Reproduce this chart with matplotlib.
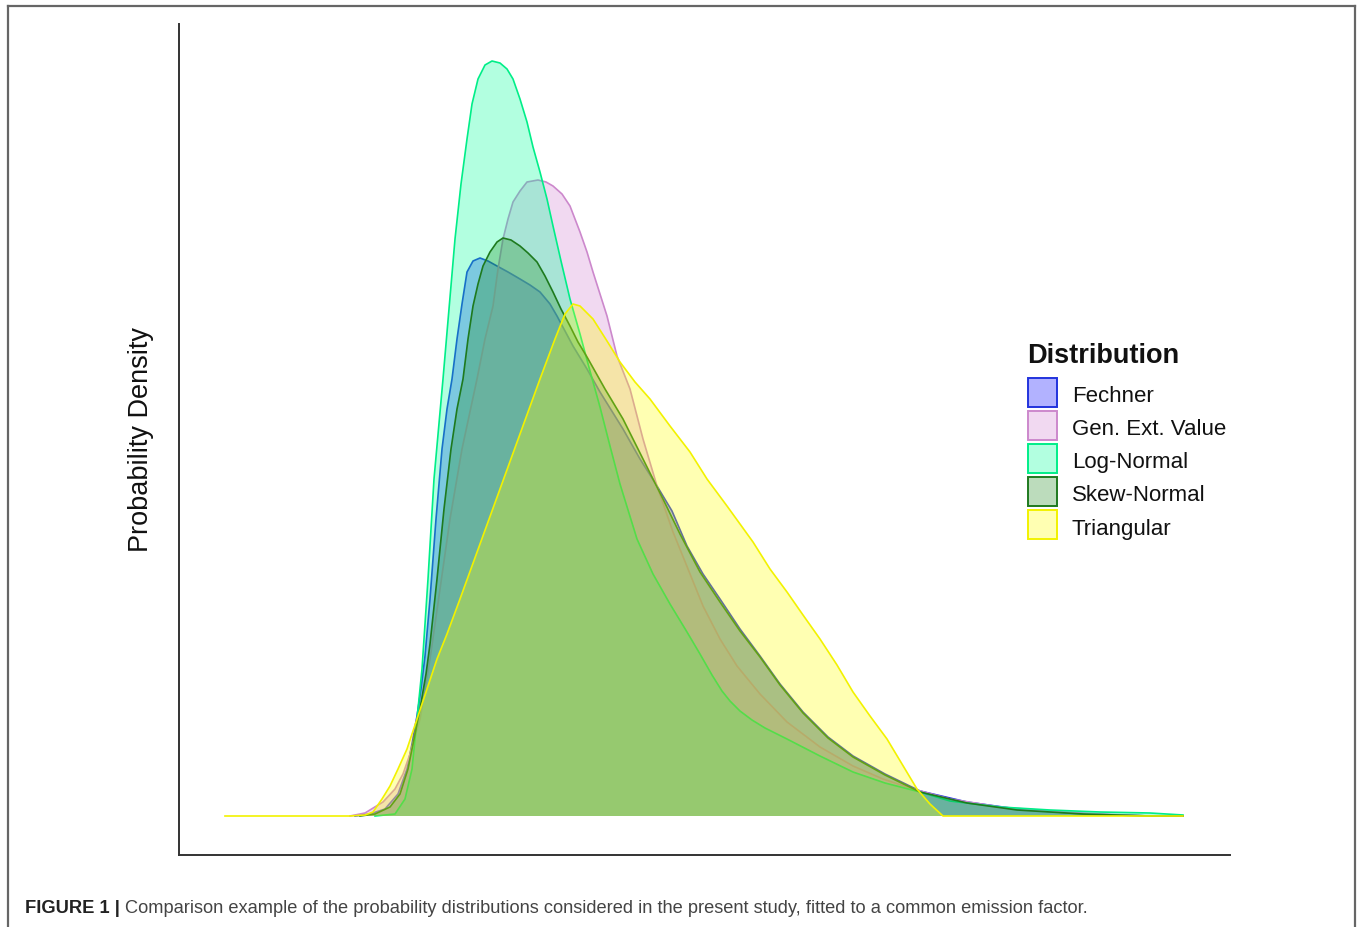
import matplotlib
matplotlib.use("Agg")
import matplotlib.pyplot as plt
from matplotlib.patches import Rectangle
from matplotlib.lines import Line2D
from matplotlib.colors import to_rgba

plt.rcParams['font.family'] = ['Liberation Sans', 'DejaVu Sans']

# ---------------- data (arbitrary units) ----------------
distributions = ["Fechner", "Gen. Ext. Value", "Log-Normal", "Skew-Normal", "Triangular"]

fechner_x = [1.76, 1.91, 2.06, 2.19, 2.28, 2.33, 2.38, 2.42, 2.46, 2.51, 2.57, 2.63, 2.68, 2.73,
             2.78, 2.83, 2.88, 2.94, 3.01, 3.09, 3.18, 3.29, 3.41, 3.51, 3.61, 3.71, 3.78, 3.86,
             3.94, 4.08, 4.21, 4.44, 4.61, 4.78, 4.93, 5.08, 5.24, 5.41, 5.61, 5.81, 6.01, 6.24,
             6.49, 6.74, 7.06, 7.41, 7.88, 8.38, 9.04, 9.71, 10.04]
fechner_y = [0.00, 0.02, 0.07, 0.22, 0.47, 0.72, 1.00, 1.27, 1.60, 2.17, 2.97, 3.67, 4.07, 4.37,
             4.77, 5.12, 5.44, 5.55, 5.58, 5.55, 5.50, 5.44, 5.37, 5.31, 5.24, 5.12, 5.00, 4.85,
             4.70, 4.47, 4.24, 3.87, 3.57, 3.30, 3.05, 2.70, 2.42, 2.17, 1.87, 1.60, 1.32, 1.04,
             0.79, 0.60, 0.42, 0.25, 0.14, 0.07, 0.02, 0.00, 0.00]

gev_x = [1.71, 1.86, 2.04, 2.16, 2.24, 2.31, 2.41, 2.51, 2.61, 2.71, 2.83, 2.98, 3.06, 3.14,
         3.19, 3.24, 3.29, 3.34, 3.41, 3.48, 3.59, 3.67, 3.74, 3.83, 3.91, 4.01, 4.08, 4.14,
         4.21, 4.28, 4.38, 4.51, 4.64, 4.78, 4.94, 5.07, 5.24, 5.41, 5.58, 5.81, 6.08, 6.41,
         6.74, 7.04, 7.34, 7.71, 8.21, 8.71, 9.21, 9.71]
gev_y = [0.00, 0.03, 0.14, 0.27, 0.42, 0.62, 0.97, 1.57, 2.27, 2.97, 3.67, 4.37, 4.77, 5.10,
         5.47, 5.77, 5.97, 6.14, 6.25, 6.34, 6.36, 6.34, 6.30, 6.22, 6.10, 5.84, 5.64, 5.44,
         5.22, 5.00, 4.60, 4.27, 3.77, 3.30, 2.84, 2.52, 2.10, 1.77, 1.50, 1.22, 0.94, 0.69,
         0.50, 0.37, 0.27, 0.17, 0.09, 0.05, 0.02, 0.00]

lognormal_x = [1.96, 2.16, 2.26, 2.33, 2.38, 2.43, 2.49, 2.55, 2.64, 2.70, 2.76, 2.82, 2.88, 2.93,
               2.99, 3.06, 3.13, 3.21, 3.28, 3.34, 3.41, 3.48, 3.54, 3.61, 3.68, 3.74, 3.82, 3.91,
               4.01, 4.11, 4.21, 4.31, 4.41, 4.58, 4.74, 4.91, 5.08, 5.21, 5.33, 5.43, 5.51, 5.61,
               5.73, 5.86, 6.08, 6.41, 6.74, 7.06, 7.41, 7.71, 8.21, 8.71, 9.21, 9.71, 10.04]
lognormal_y = [0.00, 0.02, 0.17, 0.47, 0.97, 1.47, 2.37, 3.37, 4.37, 5.07, 5.77, 6.32, 6.77, 7.12,
               7.37, 7.51, 7.55, 7.53, 7.47, 7.37, 7.17, 6.94, 6.69, 6.44, 6.17, 5.90, 5.55, 5.17,
               4.82, 4.45, 4.09, 3.70, 3.32, 2.77, 2.42, 2.12, 1.84, 1.62, 1.41, 1.25, 1.15, 1.05,
               0.96, 0.88, 0.77, 0.60, 0.44, 0.33, 0.24, 0.15, 0.09, 0.06, 0.04, 0.03, 0.01]

skew_x = [1.81, 1.96, 2.11, 2.21, 2.29, 2.35, 2.41, 2.47, 2.51, 2.58, 2.65, 2.72, 2.78, 2.84,
          2.89, 2.94, 2.99, 3.04, 3.11, 3.18, 3.24, 3.32, 3.41, 3.49, 3.58, 3.66, 3.74, 3.82,
          3.91, 3.99, 4.08, 4.26, 4.44, 4.64, 4.84, 5.01, 5.21, 5.41, 5.61, 5.81, 6.01, 6.24,
          6.49, 6.74, 7.06, 7.41, 7.88, 8.38, 9.04, 9.71, 10.04]
skew_y = [0.00, 0.02, 0.09, 0.22, 0.47, 0.77, 1.07, 1.42, 1.72, 2.37, 3.07, 3.67, 4.07, 4.37,
          4.77, 5.10, 5.32, 5.50, 5.64, 5.74, 5.78, 5.76, 5.70, 5.63, 5.54, 5.40, 5.24, 5.07,
          4.90, 4.74, 4.59, 4.27, 3.97, 3.57, 3.17, 2.82, 2.44, 2.14, 1.85, 1.59, 1.31, 1.03,
          0.78, 0.59, 0.41, 0.24, 0.13, 0.06, 0.02, 0.00, 0.00]

triangular_x = [0.46, 1.71, 1.86, 1.94, 2.03, 2.11, 2.19, 2.28, 2.38, 2.48, 2.58, 2.68, 2.81, 3.01,
                3.21, 3.41, 3.61, 3.76, 3.86, 3.94, 4.01, 4.14, 4.28, 4.41, 4.56, 4.71, 4.91, 5.11,
                5.28, 5.48, 5.74, 5.91, 6.08, 6.24, 6.41, 6.58, 6.74, 6.91, 7.08, 7.23, 7.38, 7.51,
                7.64, 10.04]
triangular_y = [0.00, 0.00, 0.01, 0.04, 0.17, 0.30, 0.47, 0.67, 0.97, 1.27, 1.57, 1.82, 2.17, 2.72,
                3.27, 3.82, 4.37, 4.77, 5.02, 5.12, 5.10, 4.97, 4.75, 4.54, 4.34, 4.17, 3.90, 3.64,
                3.37, 3.10, 2.74, 2.47, 2.24, 2.01, 1.77, 1.51, 1.24, 1.00, 0.77, 0.52, 0.27, 0.12,
                0.00, 0.00]

series_x = [fechner_x, gev_x, lognormal_x, skew_x, triangular_x]
series_y = [fechner_y, gev_y, lognormal_y, skew_y, triangular_y]

fill_colors = ["#0000FF", "#DDA0DD", "#00FF99", "#228B22", "#FFFF00"]
fill_alphas = [0.30, 0.40, 0.30, 0.30, 0.30]
edge_colors = ["#2233DD", "#CC88CC", "#00EE88", "#1E7A1E", "#F2F200"]

# ---------------- figure ----------------
W, H = 1357, 928
fig = plt.figure(figsize=(W / 100, H / 100), dpi=100)
fig.patch.set_facecolor("white")


def fx(px):
    return px / W


def fy(py):
    return 1 - py / H


ax = fig.add_axes([fx(179), fy(856), fx(1230) - fx(179), fy(25) - fy(856)])
ax.set_xlim(0, 10.51)
ax.set_ylim(-0.39, 7.92)

z = 2
for xs, ys, fc, fa, ec in zip(series_x, series_y, fill_colors, fill_alphas, edge_colors):
    ax.fill_between(xs, ys, 0, facecolor=fc, alpha=fa, linewidth=0, zorder=z)
    ax.plot(xs, ys, color=ec, linewidth=1.2, zorder=z + 0.5, solid_joinstyle="round")
    z += 1

for s in ("top", "right"):
    ax.spines[s].set_visible(False)
for s in ("left", "bottom"):
    ax.spines[s].set_color("#333333")
    ax.spines[s].set_linewidth(1.4)
ax.set_xticks([])
ax.set_yticks([])
ax.patch.set_alpha(0)

# y label
fig.text(fx(141), fy(440), "Probability Density", rotation=90, ha="center", va="center",
         fontsize=19.5, color="#111111")

# legend (manual)
fig.text(fx(1027), fy(363), "Distribution", fontweight="bold", fontsize=19.5,
         va="baseline", ha="left", color="#111111")
for i, name in enumerate(distributions):
    top = 379 + 33 * i
    rect = Rectangle((fx(1028), fy(top + 29)), 29 / W, 29 / H,
                     facecolor=to_rgba(fill_colors[i], fill_alphas[i]),
                     edgecolor=edge_colors[i], linewidth=1.4, transform=fig.transFigure)
    fig.add_artist(rect)
    fig.text(fx(1072), fy(top + 18), name, fontsize=16, va="center", ha="left", color="#111111")

# outer frame
frame_kw = dict(color="#666666", linewidth=1.6, transform=fig.transFigure)
fig.add_artist(Line2D([fx(8), fx(8)], [fy(7), -0.01], **frame_kw))
fig.add_artist(Line2D([fx(8), fx(1355)], [fy(7), fy(7)], **frame_kw))
fig.add_artist(Line2D([fx(1355), fx(1355)], [fy(7), -0.01], **frame_kw))

# caption
r = fig.canvas.get_renderer()
t1 = fig.text(fx(25), fy(913), "FIGURE 1 |", fontweight="bold", fontsize=13,
              va="baseline", ha="left", color="#222222")
w1 = t1.get_window_extent(r).width
t1.set_fontsize(13 * 95 / w1)
t2 = fig.text(fx(125), fy(913),
              "Comparison example of the probability distributions considered in the present study, "
              "fitted to a common emission factor.",
              fontsize=13, va="baseline", ha="left", color="#444444")
w2 = t2.get_window_extent(r).width
t2.set_fontsize(13 * 960 / w2)

fig.savefig("out.png", dpi=100)
